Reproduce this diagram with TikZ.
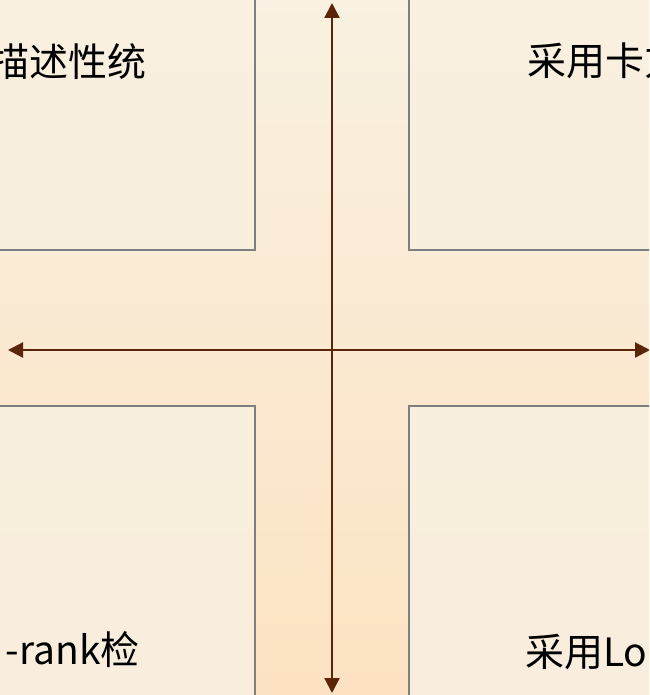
\documentclass[tikz,border=0pt]{standalone}
\usepackage{fontspec}
\newfontfamily\cjk{Noto Sans CJK SC}
\usetikzlibrary{arrows.meta}

\definecolor{paper}{HTML}{F9F1E1}
\definecolor{paperlow}{HTML}{FCE2C2}
\definecolor{quadfill}{HTML}{F9F0E0}
\definecolor{axisbrown}{HTML}{5A2508}
\definecolor{edgegray}{HTML}{7F7F7F}

\begin{document}
\begin{tikzpicture}[x=1pt, y=-1pt,
    quad/.style={draw=edgegray, line width=1.2pt, fill=quadfill, fill opacity=0.9},
    quadtext/.style={font=\cjk\fontsize{39}{47}\selectfont, inner sep=0pt, text=black},
    axis/.style={draw=axisbrown, line width=2.2pt,
      {Triangle[width=15pt,length=15pt]}-{Triangle[width=15pt,length=15pt]}}]

    \useasboundingbox (0,0) rectangle (649,695);
    \clip (0,0) rectangle (649,695);

    % background
    \fill[top color=paper, middle color=paper, bottom color=paperlow] (0,0) rectangle (649,695);

    % quadrant boxes
    \foreach \xa/\ya/\xb/\yb in {-20/-20/255/250, 409/-20/670/250, -20/406/255/715, 409/406/670/715} {
      \draw[quad] (\xa,\ya) rectangle (\xb,\yb);
    }

    % quadrant texts
    \node[quadtext, anchor=base east] (tl) at (147,77) {描述性统};
    \node[quadtext, anchor=base west] (tr) at (527,76) {采用卡方};
    \node[quadtext, anchor=base east] (bl) at (140,664) {-rank检};
    \node[quadtext, anchor=base west] (br) at (525,666) {采用Lo};

    % axes
    \coordinate (north) at (332,3);
    \coordinate (south) at (332,693);
    \coordinate (west) at (8,350);
    \coordinate (east) at (650,350);
    \draw[axis] (north) -- (south);
    \draw[axis] (west) -- (east);

\end{tikzpicture}
\end{document}
